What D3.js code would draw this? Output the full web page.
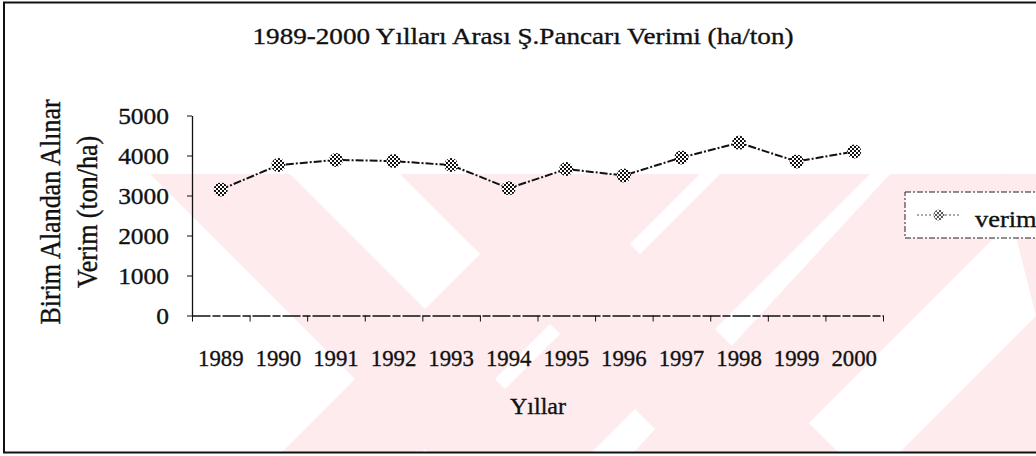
<!DOCTYPE html>
<html>
<head>
<meta charset="utf-8">
<script src="https://cdn.jsdelivr.net/npm/d3@7"></script>
<style>
  body { margin: 0; background: #fff; }
  svg { display: block; font-family: "Liberation Serif", "Times New Roman", serif; }
  svg text { stroke: #111; stroke-width: 0.35px; }
</style>
</head>
<body>
<div id="chart"></div>
<script>
// data
const years = ["1989", "1990", "1991", "1992", "1993", "1994", "1995", "1996", "1997", "1998", "1999", "2000"];
const verim = [3150, 3760, 3890, 3860, 3760, 3180, 3660, 3500, 3950, 4320, 3850, 4100];
const yTicks = [0, 1000, 2000, 3000, 4000, 5000];
const titleText = "1989-2000 Yılları Arası Ş.Pancarı Verimi (ha/ton)";
const yTitleLines = ["Birim Alandan Alınar", "Verim (ton/ha)"];
const xTitleText = "Yıllar";
const seriesName = "verim";

// background watermark (pale stripes of the scanned page)
const watermark = [
  [[150, 174], [290, 174], [568, 452], [428, 452]],
  [[560, 174], [700, 174], [422, 452], [282, 452]],
  [[400, 174], [560, 174], [838, 452], [678, 452]],
  [[720, 174], [870, 174], [592, 452], [442, 452]],
  [[890, 174], [1036, 174], [1036, 196], [780, 452], [634, 452]],
  [[1000, 174], [1036, 174], [1036, 452], [900, 452], [1036, 316]],
];

function stretch(sel, k) {
  // the scan is a bit wider than the font, widen the glyphs
  sel.each(function () {
    const w = this.getComputedTextLength();
    d3.select(this).attr("textLength", w * k).attr("lengthAdjust", "spacingAndGlyphs");
  });
}

class LineChart {
  constructor(_config) {
    this.config = {
      parentElement: _config.parentElement,
      containerWidth: 1036,
      containerHeight: 456,
      plot: { left: 192, right: 883, top: 115.5, bottom: 315.5 },
    };
    this.initVis();
  }

  initVis() {
    let vis = this;
    const c = vis.config;

    vis.svg = d3
      .select(c.parentElement)
      .append("svg")
      .attr("width", c.containerWidth)
      .attr("height", c.containerHeight);

    // checkered marker fill
    const pat = vis.svg
      .append("defs")
      .append("pattern")
      .attr("id", "checker")
      .attr("width", 4)
      .attr("height", 4)
      .attr("patternUnits", "userSpaceOnUse");
    pat.append("rect").attr("width", 4).attr("height", 4).attr("fill", "#fff");
    pat.append("rect").attr("width", 2).attr("height", 2).attr("fill", "#111");
    pat.append("rect").attr("x", 2).attr("y", 2).attr("width", 2).attr("height", 2).attr("fill", "#111");

    vis.svg
      .append("g")
      .selectAll("polygon")
      .data(watermark)
      .join("polygon")
      .attr("points", (d) => d.map((p) => p.join(",")).join(" "))
      .attr("fill", "#fdebee");

    // outer frame
    vis.svg
      .append("rect")
      .attr("x", 4)
      .attr("y", 2.5)
      .attr("width", 1050)
      .attr("height", 450)
      .attr("fill", "none")
      .attr("stroke", "#111")
      .attr("stroke-width", 2);

    vis.x = d3.scaleBand().domain(years).range([c.plot.left, c.plot.right]);
    vis.xEdge = d3.scaleLinear().domain([0, years.length]).range([c.plot.left, c.plot.right]);
    vis.y = d3.scaleLinear().domain([0, 5000]).range([c.plot.bottom, c.plot.top]);

    vis.updateVis();
  }

  updateVis() {
    let vis = this;
    const c = vis.config;
    const x = vis.x;
    const y = vis.y;

    // y axis
    const yAxis = vis.svg
      .append("g")
      .attr("transform", `translate(${c.plot.left},0)`)
      .call(d3.axisLeft(y).tickValues(yTicks).tickFormat(d3.format("d")).tickSize(5).tickSizeOuter(0).tickPadding(18));
    yAxis.select(".domain").attr("stroke", "#111").attr("stroke-width", 1.3);
    yAxis.selectAll(".tick line").attr("stroke", "#111");
    yAxis
      .selectAll("text")
      .attr("font-family", "Liberation Serif")
      .attr("font-size", 24)
      .attr("fill", "#111")
      .attr("dy", "0.34em")
      .call(stretch, 1.06);

    // x axis, ticks sit between the categories
    const xAxis = vis.svg
      .append("g")
      .attr("transform", `translate(0,${c.plot.bottom})`)
      .call(d3.axisBottom(vis.xEdge).ticks(years.length).tickFormat("").tickSize(6).tickSizeOuter(0));
    xAxis.select(".domain").attr("stroke", "#111").attr("stroke-width", 1.3).attr("stroke-dasharray", "18,2,8,2");
    xAxis.selectAll(".tick line").attr("stroke", "#111");

    vis.svg
      .append("g")
      .selectAll("text")
      .data(years)
      .join("text")
      .attr("x", (d) => x(d) + x.bandwidth() / 2)
      .attr("y", 366)
      .attr("text-anchor", "middle")
      .attr("font-size", 24)
      .attr("fill", "#111")
      .text((d) => d)
      .call(stretch, 0.95);

    // titles
    vis.svg
      .append("text")
      .attr("x", 523)
      .attr("y", 44)
      .attr("text-anchor", "middle")
      .attr("font-size", 24)
      .attr("fill", "#111")
      .attr("textLength", 541)
      .attr("lengthAdjust", "spacingAndGlyphs")
      .text(titleText);

    vis.svg
      .append("text")
      .attr("x", 538)
      .attr("y", 414)
      .attr("text-anchor", "middle")
      .attr("font-size", 24)
      .attr("fill", "#111")
      .text(xTitleText);

    vis.svg
      .append("g")
      .attr("transform", "translate(78,212) scale(1.15,1) rotate(-90)")
      .selectAll("text")
      .data(yTitleLines)
      .join("text")
      .attr("x", 0)
      .attr("y", (d, i) => (i === 0 ? -15.5 : 16.5))
      .attr("text-anchor", "middle")
      .attr("font-size", 26)
      .attr("fill", "#111")
      .text((d) => d);

    // series line
    const line = d3
      .line()
      .x((d, i) => x(years[i]) + x.bandwidth() / 2)
      .y((d) => y(d));
    vis.svg
      .append("path")
      .datum(verim)
      .attr("d", line)
      .attr("fill", "none")
      .attr("stroke", "#111")
      .attr("stroke-width", 2)
      .attr("stroke-dasharray", "8,2,2,2");

    vis.svg
      .append("g")
      .selectAll("circle")
      .data(verim)
      .join("circle")
      .attr("cx", (d, i) => x(years[i]) + x.bandwidth() / 2)
      .attr("cy", (d) => y(d))
      .attr("r", 7)
      .attr("fill", "url(#checker)");

    // legend
    const lg = vis.svg.append("g").attr("transform", "translate(905,192)");
    lg.append("rect")
      .attr("width", 160)
      .attr("height", 46)
      .attr("fill", "#fff")
      .attr("stroke", "#222")
      .attr("stroke-dasharray", "6,2,2,2");
    lg.append("line")
      .attr("x1", 12)
      .attr("x2", 56)
      .attr("y1", 23)
      .attr("y2", 23)
      .attr("stroke", "#555")
      .attr("stroke-dasharray", "2,2");
    lg.append("circle").attr("cx", 34).attr("cy", 23).attr("r", 5.5).attr("fill", "url(#checker)").attr("opacity", 0.7);
    lg.append("text")
      .attr("x", 70)
      .attr("y", 35)
      .attr("font-size", 24)
      .attr("fill", "#111")
      .text(seriesName)
      .call(stretch, 1.1);
  }
}

new LineChart({ parentElement: "#chart" });
</script>
</body>
</html>
